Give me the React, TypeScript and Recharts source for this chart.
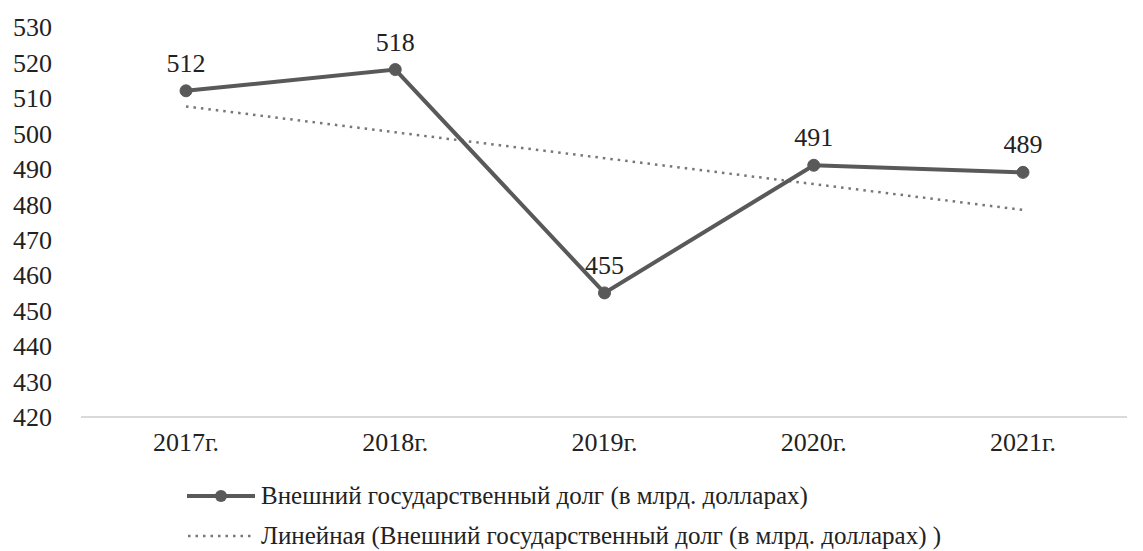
import React from "react";
import { LineChart, Line, XAxis, YAxis, LabelList, Legend } from "recharts";

const years = ["2017г.", "2018г.", "2019г.", "2020г.", "2021г."];
const debt = [512, 518, 455, 491, 489];
// dotted trend line
const trend = [507.6, 500.3, 493.0, 485.7, 478.4];
const yTicks = [420, 430, 440, 450, 460, 470, 480, 490, 500, 510, 520, 530];

const debtName = "Внешний государственный долг (в млрд. долларах)";
const trendName = "Линейная (Внешний государственный долг (в млрд. долларах) )";

const data = years.map((year, i) => ({ year, debt: debt[i], trend: trend[i] }));

const FONT = "Liberation Serif";
const TEXT = "#222";
const LINE = "#595959";
const TREND = "#777";

function LegendBox() {
  const row: React.CSSProperties = {
    display: "flex",
    alignItems: "center",
    height: 40,
    fontFamily: FONT,
    fontSize: 25,
    color: TEXT,
    whiteSpace: "nowrap",
  };
  return (
    <div>
      <div style={row}>
        <svg width={72} height={16} style={{ marginRight: 2 }}>
          <line x1={0} y1={8} x2={68} y2={8} stroke={LINE} strokeWidth={4} />
          <circle cx={34} cy={8} r={6} fill={LINE} />
        </svg>
        {debtName}
      </div>
      <div style={row}>
        <svg width={72} height={16} style={{ marginRight: 2 }}>
          <line x1={1} y1={8} x2={64} y2={8} stroke={TREND} strokeWidth={2.5} strokeDasharray="2.5 5" />
        </svg>
        {trendName}
      </div>
    </div>
  );
}

export default function App() {
  return (
    <div style={{ position: "absolute", left: 0, top: 0, width: 1143, height: 551, background: "#fff" }}>
      <LineChart width={1143} height={551} data={data} margin={{ top: 27, right: 16, bottom: 94, left: 0 }}>
        <XAxis
          dataKey="year"
          height={40}
          padding={{ left: 105, right: 104 }}
          tickLine={false}
          axisLine={{ stroke: "#d9d9d9", strokeWidth: 2 }}
          tickMargin={10}
          tick={{ fill: TEXT, fontSize: 26, fontFamily: FONT }}
        />
        <YAxis
          width={81}
          domain={[420, 530]}
          ticks={yTicks}
          interval={0}
          axisLine={false}
          tickLine={false}
          tickMargin={23}
          tick={{ fill: TEXT, fontSize: 26, fontFamily: FONT }}
        />
        <Line
          dataKey="trend"
          name={trendName}
          stroke={TREND}
          strokeWidth={2.5}
          strokeDasharray="2.5 5"
          dot={false}
          activeDot={false}
          isAnimationActive={false}
        />
        <Line
          dataKey="debt"
          name={debtName}
          stroke={LINE}
          strokeWidth={4}
          dot={{ r: 6, fill: LINE, stroke: LINE, strokeWidth: 1 }}
          isAnimationActive={false}
        >
          <LabelList dataKey="debt" position="top" offset={19} fill={TEXT} fontSize={26} fontFamily={FONT} />
        </Line>
        <Legend
          layout="horizontal"
          verticalAlign="middle"
          align="center"
          content={() => <LegendBox />}
          wrapperStyle={{ position: "absolute", left: 187, top: 476, width: 900, height: 80 }}
        />
      </LineChart>
    </div>
  );
}
